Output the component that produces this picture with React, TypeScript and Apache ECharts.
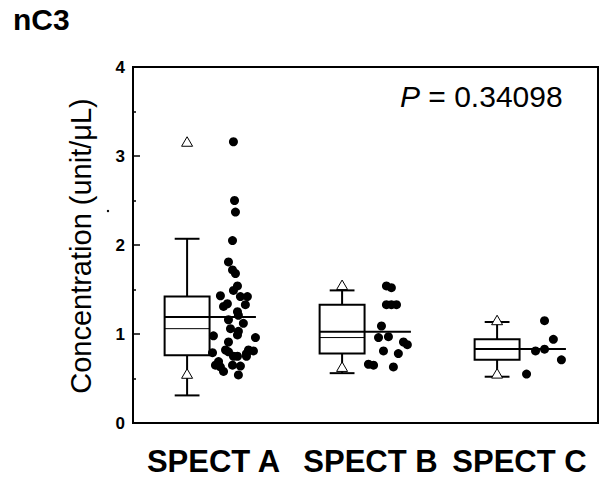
import React, { useEffect, useRef } from "react";
import * as echarts from "echarts";

const categories = ["SPECT A", "SPECT B", "SPECT C"];

// box statistics per group
const whiskerLow = [0.31, 0.56, 0.52];
const q1 = [0.76, 0.78, 0.71];
const median = [1.06, 0.96, 0.83];
const q3 = [1.42, 1.33, 0.94];
const whiskerHigh = [2.07, 1.49, 1.135];
const mean = [1.19, 1.026, 0.831];
const minVal = [0.553, 0.63, 0.555];
const maxVal = [3.16, 1.55, 1.155];

// individual observations (value) and their horizontal jitter (fraction of category band)
const valuesA = [3.16, 2.5, 2.37, 2.05, 1.81, 1.72, 1.68, 1.54, 1.49, 1.43, 1.42, 1.42, 1.34, 1.31, 1.33, 1.25, 1.21, 1.16, 1.12, 1.06, 1.03, 0.98, 0.99, 0.96, 0.91, 0.82, 0.8, 0.79, 0.82, 0.81, 0.78, 0.75, 0.75, 0.75, 0.69, 0.65, 0.63, 0.65, 0.64, 0.58, 0.54];
const jitterA = [0.148, 0.155, 0.161, 0.142, 0.116, 0.142, 0.161, 0.174, 0.148, 0.064, 0.193, 0.238, 0.109, 0.084, 0.225, 0.174, 0.18, 0.116, 0.212, 0.129, 0.18, 0.019, 0.174, 0.29, 0.116, 0.097, 0.116, 0.013, 0.245, 0.277, 0.232, 0.148, 0.174, 0.232, 0.052, 0.032, 0.064, 0.142, 0.193, 0.084, 0.18];
const valuesB = [1.54, 1.52, 1.33, 1.33, 1.33, 1.09, 0.96, 0.97, 0.91, 0.88, 0.81, 0.78, 0.66, 0.65, 0.63];
const jitterB = [0.135, 0.167, 0.135, 0.167, 0.2, 0.103, 0.084, 0.148, 0.245, 0.27, 0.116, 0.212, 0.019, 0.052, 0.18];
const valuesC = [1.15, 0.94, 0.81, 0.83, 0.71, 0.55];
const jitterC = [0.155, 0.212, 0.097, 0.155, 0.264, 0.039];

const pText = "0.34098";
const yName = "Concentration (unit/\u03bcL)";
const title = "nC3";

const FONT = "'Liberation Sans', Arial, Helvetica, sans-serif";

export default function App() {
  const ref = useRef<HTMLDivElement>(null);
  useEffect(() => {
    if (!ref.current) return;
    const chart = echarts.init(ref.current, null, { renderer: "svg" });

    const groups = [
      [valuesA, jitterA],
      [valuesB, jitterB],
      [valuesC, jitterC],
    ] as const;
    const dots: number[][] = [];
    groups.forEach(([vals, jit], gi) => {
      vals.forEach((v, k) => dots.push([gi + 0.5 + jit[k], v]));
    });

    const boxData = categories.map((_, i) => [
      i + 0.5,
      whiskerLow[i],
      q1[i],
      median[i],
      q3[i],
      whiskerHigh[i],
      mean[i],
      minVal[i],
      maxVal[i],
    ]);

    const black = "#000";
    const labStyle = { fontSize: 31, fontWeight: "bold", color: black, fontFamily: FONT, lineHeight: 28 };

    chart.setOption({
      animation: false,
      backgroundColor: "#fff",
      textStyle: { fontFamily: FONT },
      grid: {
        left: 133,
        top: 67,
        right: 1,
        bottom: 54,
        show: true,
        borderColor: black,
        borderWidth: 2,
        backgroundColor: "transparent",
      },
      xAxis: [
        {
          type: "category",
          data: categories,
          boundaryGap: true,
          axisLine: { lineStyle: { color: black, width: 2 } },
          axisTick: { alignWithLabel: true, inside: true, length: 6, lineStyle: { color: black, width: 1.5 } },
          axisLabel: {
            color: black,
            fontSize: 31,
            fontWeight: "bold",
            lineHeight: 28,
            margin: 24,
            fontFamily: FONT,
            interval: 0,
            hideOverlap: false,
            formatter: (v: string, i: number) => `{l${i}|${v}}`,
            rich: {
              l0: { ...labStyle, padding: [0, 0, 0, 6] },
              l1: { ...labStyle, padding: [0, 0, 0, 10] },
              l2: { ...labStyle, padding: [0, 2, 0, 0] },
            },
          },
          splitLine: { show: false },
        },
        { type: "value", min: 0, max: 3, show: false },
      ],
      yAxis: {
        type: "value",
        min: 0,
        max: 4,
        interval: 1,
        axisLine: { show: true, lineStyle: { color: black, width: 2 } },
        axisTick: { show: true, inside: true, length: 7, lineStyle: { color: black, width: 1.5 } },
        minorTick: { show: true, splitNumber: 2, length: 3, lineStyle: { color: black, width: 1.5 } },
        axisLabel: { color: black, fontSize: 17, fontWeight: "bold", margin: 8, fontFamily: FONT },
        splitLine: { show: false },
      },
      graphic: [
        {
          type: "text",
          left: 13,
          top: 4,
          style: { text: title, font: `bold 30px ${FONT}`, fill: black },
        },
        {
          type: "text",
          x: 81,
          y: 246,
          rotation: Math.PI / 2,
          style: {
            text: yName,
            font: `29px ${FONT}`,
            fill: black,
            align: "center",
            verticalAlign: "middle",
          },
        },
        {
          type: "text",
          x: 400,
          y: 96,
          style: {
            text: "{p|P} = " + pText,
            font: `30px ${FONT}`,
            fill: black,
            align: "left",
            verticalAlign: "middle",
            rich: { p: { fontStyle: "italic", font: `italic 30px ${FONT}`, fill: black } },
          },
        },
        { type: "circle", shape: { cx: 108, cy: 211, r: 1.2 }, style: { fill: black } },
      ],
      series: [
        {
          type: "scatter",
          xAxisIndex: 1,
          yAxisIndex: 0,
          data: dots,
          symbol: "circle",
          symbolSize: 9,
          itemStyle: { color: black, opacity: 1 },
          z: 2,
        },
        {
          type: "custom",
          xAxisIndex: 1,
          yAxisIndex: 0,
          data: boxData,
          z: 3,
          renderItem: (params: any, api: any) => {
            const xc = api.value(0);
            const unit = api.size([1, 0])[0];
            const cx = api.coord([xc, 0])[0];
            const Y = (v: number) => api.coord([xc, v])[1];
            const bx = cx - 0.151 * unit;
            const bw = 0.29 * unit;
            const capW = 0.16 * unit;
            const meanEnd = cx + 0.293 * unit;
            const yWl = Y(api.value(1));
            const yQ1 = Y(api.value(2));
            const yMed = Y(api.value(3));
            const yQ3 = Y(api.value(4));
            const yWh = Y(api.value(5));
            const yMean = Y(api.value(6));
            const yMin = Y(api.value(7));
            const yMax = Y(api.value(8));
            const ls = { stroke: black, lineWidth: 2, fill: "none" };
            const tri = (y: number) => ({
              type: "polygon",
              shape: { points: [[bx, y - 5], [bx - 5.5, y + 4.5], [bx + 5.5, y + 4.5]] },
              style: { fill: "#fff", stroke: black, lineWidth: 1 },
            });
            const left = bx - bw / 2;
            return {
              type: "group",
              children: [
                { type: "line", shape: { x1: bx, y1: yWh, x2: bx, y2: yQ3 }, style: ls },
                { type: "line", shape: { x1: bx, y1: yQ1, x2: bx, y2: yWl }, style: ls },
                { type: "line", shape: { x1: bx - capW / 2, y1: yWh, x2: bx + capW / 2, y2: yWh }, style: ls },
                { type: "line", shape: { x1: bx - capW / 2, y1: yWl, x2: bx + capW / 2, y2: yWl }, style: ls },
                { type: "rect", shape: { x: left, y: yQ3, width: bw, height: yQ1 - yQ3 }, style: { fill: "none", stroke: black, lineWidth: 2 } },
                { type: "line", shape: { x1: left, y1: yMed, x2: left + bw, y2: yMed }, style: { stroke: black, lineWidth: 1 } },
                { type: "line", shape: { x1: left, y1: yMean, x2: meanEnd, y2: yMean }, style: ls },
                tri(yMax),
                tri(yMin),
              ],
            };
          },
        },
      ],
    });
    return () => chart.dispose();
  }, []);
  return (
    <div
      ref={ref}
      style={{ position: "fixed", left: 0, top: 0, width: 599, height: 477, background: "#fff" }}
    />
  );
}
